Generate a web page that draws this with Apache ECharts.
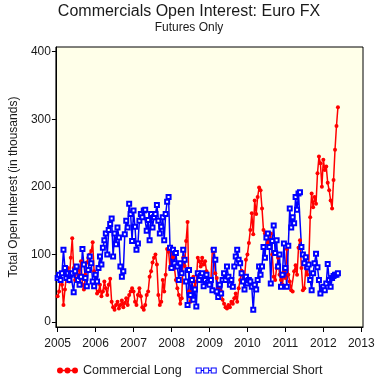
<!DOCTYPE html>
<html>
<head>
<meta charset="utf-8">
<script src="https://cdn.jsdelivr.net/npm/echarts@6/dist/echarts.min.js"></script>
<style>
html,body{margin:0;padding:0;background:#fff;}
#c{width:378px;height:378px;}
</style>
</head>
<body>
<div id="c"></div>
<script>
// Biweekly observations starting at the first week of 2005
var startYear = 2005;
var stepsPerYear = 26;

var yTicks = [0, 100, 200, 300, 400];
var xTicks = [2005, 2006, 2007, 2008, 2009, 2010, 2011, 2012, 2013];

// Commercial Long (thousands of contracts)
var longValues = [
  // 2005
  38,45,70,55,25,48,68,80,60,95,124,80,62,75,82,70,90,55,48,70,88,95,100,105,118,75,
  // 2006
  55,42,45,55,38,45,60,50,40,55,64,30,22,18,25,30,20,25,32,22,28,35,25,40,45,50,
  // 2007
  45,30,25,40,50,38,22,18,25,40,45,67,75,88,95,100,85,40,25,30,62,45,70,108,104,80,
  // 2008
  107,96,80,62,50,40,27,35,95,83,120,148,45,30,60,67,52,60,95,90,82,95,85,90,75,60,
  // 2009
  55,62,108,104,72,65,50,42,45,33,27,22,20,25,22,30,27,35,42,30,50,62,76,70,65,92,
  // 2010
  100,117,136,161,130,180,160,185,199,195,168,136,131,126,117,120,131,100,67,62,80,95,70,62,55,75,
  // 2011
  65,108,70,60,47,45,75,84,70,110,121,80,47,50,80,70,84,155,190,170,185,175,220,245,235,200,
  // 2012
  240,225,230,206,195,180,168,210,255,290,318
];

// Commercial Short (thousands of contracts)
var shortValues = [
  // 2005
  65,70,62,72,107,80,65,72,62,70,72,44,75,82,62,55,67,108,85,65,53,77,97,87,60,53,
  // 2006
  70,60,80,97,85,110,121,131,100,136,145,153,97,131,115,140,125,82,67,75,130,150,140,175,160,120,
  // 2007
  165,141,107,116,150,160,155,165,166,135,151,121,160,140,155,160,173,150,131,141,155,121,160,178,185,110,
  // 2008
  80,107,87,102,82,62,87,72,107,92,60,25,77,40,62,33,48,23,72,62,68,72,53,62,70,58,
  // 2009
  55,62,47,107,92,45,37,55,42,62,72,62,82,67,55,62,52,82,97,107,92,87,72,60,48,67,
  // 2010
  57,62,60,52,18,55,48,62,82,70,82,111,95,125,131,111,57,120,143,102,121,82,100,52,70,116,
  // 2011
  80,52,113,168,140,155,146,185,166,190,192,111,100,87,96,81,85,62,47,72,87,101,81,62,42,50,
  // 2012
  52,47,57,86,62,52,65,68,70,70,72
];

function toPairs(vals) {
  return vals.map(function (v, i) { return [startYear + i / stepsPerYear, v]; });
}

var textColor = '#1a1a1a';
var font = 'Liberation Sans, Arial, sans-serif';

var chart = echarts.init(document.getElementById('c'), null, {renderer: 'canvas'});
chart.setOption({
  animation: false,
  backgroundColor: '#ffffff',
  textStyle: {fontFamily: font},
  title: {
    text: 'Commercials Open Interest: Euro FX',
    subtext: 'Futures Only',
    left: 'center',
    top: -1,
    itemGap: 2,
    textStyle: {fontSize: 16, fontWeight: 'normal', color: textColor, fontFamily: font},
    subtextStyle: {fontSize: 12, color: textColor, fontFamily: font}
  },
  grid: {
    left: 47, top: 47, width: 316, height: 280,
    show: true, borderColor: '#000', borderWidth: 1, backgroundColor: '#FFFFE9',
    containLabel: false
  },
  legend: {
    left: 52, top: 359,
    itemWidth: 21, itemHeight: 6, itemGap: 14,
    textStyle: {fontSize: 12.6, color: textColor, fontFamily: font},
    itemStyle: {borderWidth: 0},
    data: [
      {name: 'Commercial Long', icon: 'path://M0,3A3,3,0,1,1,6,3A3,3,0,1,1,0,3ZM5,2.3L9,2.3L9,3.7L5,3.7ZM7.5,3A3,3,0,1,1,13.5,3A3,3,0,1,1,7.5,3ZM12.5,2.3L16,2.3L16,3.7L12.5,3.7ZM15,3A3,3,0,1,1,21,3A3,3,0,1,1,15,3Z'},
      {name: 'Commercial Short', icon: 'path://M0,0L6,0L6,6L0,6ZM1,1L1,5L5,5L5,1ZM6,2.5L7.5,2.5L7.5,3.5L6,3.5ZM7.5,0L13.5,0L13.5,6L7.5,6ZM8.5,1L8.5,5L12.5,5L12.5,1ZM13.5,2.5L15,2.5L15,3.5L13.5,3.5ZM15,0L21,0L21,6L15,6ZM16,1L16,5L20,5L20,1Z'}
    ]
  },
  xAxis: {
    type: 'value',
    min: 2004.955, max: 2013.045,
    splitLine: {show: false},
    axisLine: {show: true, onZero: false, lineStyle: {color: '#000', width: 1}},
    axisTick: {show: true, length: 5, customValues: xTicks, lineStyle: {color: '#000'}},
    axisLabel: {customValues: xTicks, margin: 11, fontSize: 12, color: textColor, fontFamily: font,
      formatter: function (v) { return String(Math.round(v)); }}
  },
  yAxis: {
    type: 'value',
    min: -7.4, max: 407,
    name: 'Total Open Interest (in thousands)',
    nameLocation: 'middle',
    nameGap: 32,
    nameTextStyle: {fontSize: 12, color: textColor, fontFamily: font},
    splitLine: {show: false},
    axisLine: {show: true, onZero: false, lineStyle: {color: '#000', width: 1}},
    axisTick: {show: true, length: 4, customValues: yTicks, lineStyle: {color: '#000'}},
    axisLabel: {customValues: yTicks, margin: 5, fontSize: 12, color: textColor, fontFamily: font,
      formatter: function (v) { return String(Math.round(v)); }}
  },
  series: [
    {
      name: 'Commercial Long',
      type: 'line',
      data: toPairs(longValues),
      symbol: 'circle',
      symbolSize: 4,
      showAllSymbol: true,
      itemStyle: {color: '#FF0000'},
      lineStyle: {color: '#FF0000', width: 1.5},
      emphasis: {disabled: true}
    },
    {
      name: 'Commercial Short',
      type: 'line',
      data: toPairs(shortValues),
      symbol: 'emptyRect',
      symbolSize: 4,
      showAllSymbol: true,
      itemStyle: {color: '#0000FF', borderWidth: 1},
      lineStyle: {color: '#0000FF', width: 1.5},
      emphasis: {disabled: true}
    }
  ]
});
</script>
</body>
</html>
